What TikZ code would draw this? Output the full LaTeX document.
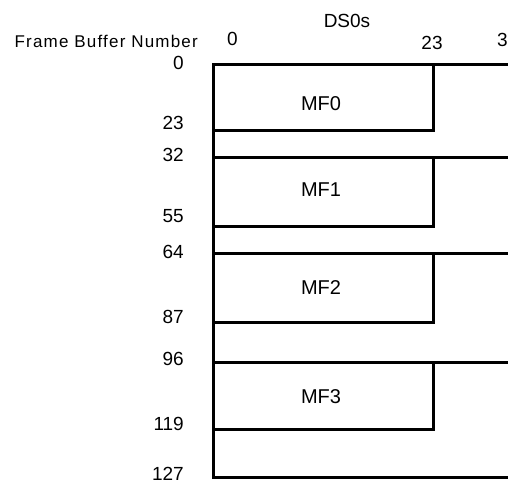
\documentclass[tikz,border=0pt]{standalone}
\usepackage{fontspec}
\setmainfont{Liberation Sans}
\usetikzlibrary{positioning}
\tikzset{
  etiqueta/.style={
    inner sep=0pt,
    font=\fontsize{19}{19}\selectfont
  },
  fila/.style={
    etiqueta,
    anchor=east
  },
  trama/.style={
    inner sep=0pt,
    font=\fontsize{20}{20}\selectfont
  },
  borde/.style={
    line width=3.2pt,
    line cap=rect,
    line join=miter
  }
}

\begin{document}
\begin{tikzpicture}[x=1pt,y=-1pt]
\useasboundingbox (0,0) rectangle (508,485);
\node[inner sep=0pt, anchor=east, font=\fontsize{17}{17}\selectfont\addfontfeature{LetterSpace=7}] (titulo) at (198,41) {Frame Buffer Number};
\node[etiqueta] (ds) at (347,21) {DS0s};
\node[etiqueta] (c0) at (232.5,39) {0};
\node[etiqueta] (c23) at (432,42.5) {23};
\node[etiqueta, anchor=west] (c31) at (497,40) {31};
\node[fila] (f0) at (184,63) {0};
\node[fila] (f23) at (184,123) {23};
\node[fila] (f32) at (184,155) {32};
\node[fila] (f55) at (184,216) {55};
\node[fila] (f64) at (184,252) {64};
\node[fila] (f87) at (184,317) {87};
\node[fila] (f96) at (184,359) {96};
\node[fila] (f119) at (184,424) {119};
\node[fila] (f127) at (184,474) {127};
\draw[borde] (213.7,64.3) -- (213.7,477.8) -- (515,477.8);
\draw[borde] (213.7,64.3) -- (515,64.3);
\draw[borde] (213.7,157.5) -- (515,157.5);
\draw[borde] (213.7,253.5) -- (515,253.5);
\draw[borde] (213.7,362.5) -- (515,362.5);
\draw[borde] (433.8,64.3) -- (433.8,130.7) -- (213.7,130.7);
\draw[borde] (433.8,157.5) -- (433.8,226.3) -- (213.7,226.3);
\draw[borde] (433.8,253.5) -- (433.8,322.2) -- (213.7,322.2);
\draw[borde] (433.8,362.5) -- (433.8,429.2) -- (213.7,429.2);
\node[trama] (mf0) at (321,104) {MF0};
\node[trama] (mf1) at (321,189.5) {MF1};
\node[trama] (mf2) at (321,288) {MF2};
\node[trama] (mf3) at (321,397) {MF3};
\end{tikzpicture}
\end{document}
